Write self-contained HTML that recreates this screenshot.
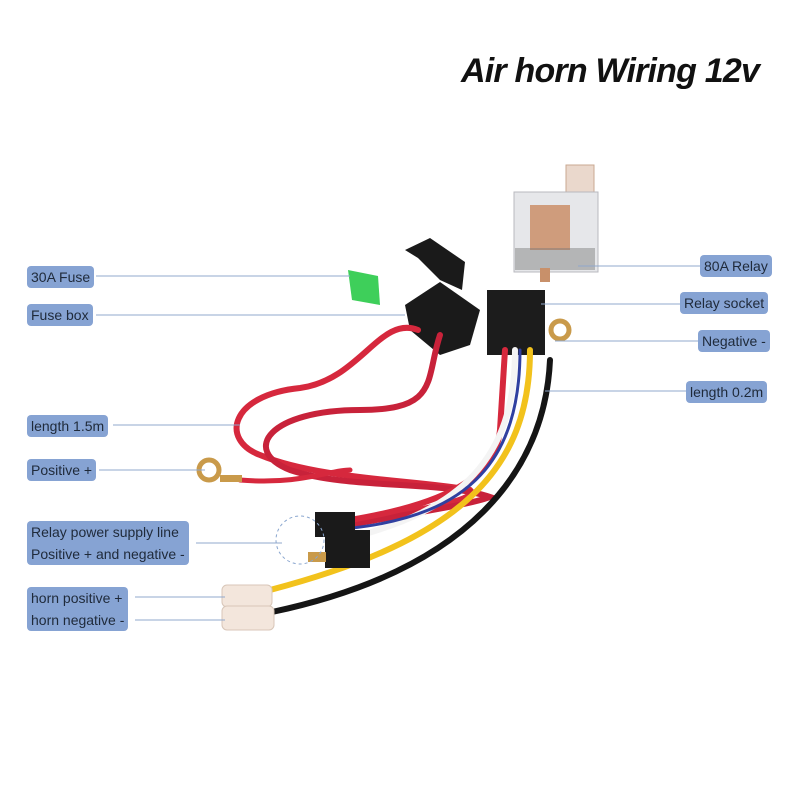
<!DOCTYPE html>
<html><head><style>
body{margin:0;width:800px;height:800px;background:#fff;overflow:hidden;position:relative;font-family:"Liberation Sans",sans-serif}
.t{position:absolute;left:461px;top:52px;font-size:34px;font-weight:bold;font-style:italic;color:#111;letter-spacing:-0.8px}
.l{position:absolute;background:#86a3d3;color:#1f2a3a;font-size:14px;border-radius:4px;padding:0 4px;line-height:22px;white-space:nowrap}
</style></head><body>
<svg width="800" height="800" style="position:absolute;left:0;top:0">
<!-- relay -->
<rect x="566" y="165" width="28" height="32" fill="#ead8cc" stroke="#c9a892"/>
<rect x="514" y="192" width="84" height="80" fill="#e6e7ea" stroke="#b8b9bf"/>
<rect x="530" y="205" width="40" height="45" fill="#c98a60" opacity=".8"/>
<rect x="515" y="248" width="80" height="22" fill="#777" opacity=".45"/>
<rect x="540" y="268" width="10" height="14" fill="#c8906a"/>
<!-- fuse box cover -->
<path d="M405 250 L430 238 L465 262 L462 290 L440 280 L418 258 Z" fill="#1a1a1a"/>
<!-- fuse -->
<path d="M348 270 L378 276 L380 305 L352 300 Z" fill="#3ecf5a"/>
<!-- fuse box -->
<path d="M405 305 L440 282 L480 310 L470 345 L440 355 L410 330 Z" fill="#1a1a1a"/>
<!-- socket -->
<rect x="487" y="290" width="58" height="65" fill="#1c1c1c"/>
<!-- wires -->
<g fill="none" stroke-linecap="round">
<path d="M418 330 C380 315 360 380 300 388 C230 395 220 440 260 455 C320 480 420 480 470 490 C480 500 420 510 360 520" stroke="#d6283d" stroke-width="6"/>
<path d="M440 335 C425 380 440 410 360 410 C270 410 240 450 290 470 C350 490 440 480 490 497 C470 505 400 515 350 525" stroke="#c8223a" stroke-width="6"/>
<path d="M505 350 L500 430 C495 480 440 505 350 520" stroke="#d6283d" stroke-width="6"/>
<path d="M515 350 C515 460 460 510 350 538" stroke="#f4f4f4" stroke-width="6"/>
<path d="M520 350 C520 460 470 515 352 528" stroke="#3040a0" stroke-width="3"/>
<path d="M530 350 C530 470 460 540 270 590" stroke="#f2c21c" stroke-width="6"/>
<path d="M550 360 C545 470 470 570 272 612" stroke="#151515" stroke-width="6"/>
<path d="M240 480 C300 485 330 470 350 470" stroke="#d6283d" stroke-width="5"/>
</g>
<!-- ring terminals -->
<circle cx="209" cy="470" r="10" fill="none" stroke="#c99a4a" stroke-width="5"/>
<rect x="220" y="475" width="22" height="7" fill="#c99a4a"/>
<circle cx="560" cy="330" r="9" fill="none" stroke="#c99a4a" stroke-width="5"/>
<!-- spade connectors -->
<rect x="315" y="512" width="40" height="25" fill="#1a1a1a"/>
<rect x="325" y="530" width="45" height="38" fill="#1a1a1a"/>
<rect x="308" y="552" width="18" height="10" fill="#c99a4a"/>
<rect x="222" y="585" width="50" height="22" rx="5" fill="#f3e6dc" stroke="#d8c6b8"/>
<rect x="222" y="606" width="52" height="24" rx="5" fill="#f3e6dc" stroke="#d8c6b8"/>
<circle cx="300" cy="540" r="24" fill="none" stroke="#8aa6cf" stroke-dasharray="3 3"/>
<!-- leader lines -->
<g stroke="#90a8cc" stroke-width="1">
<line x1="96" y1="276" x2="350" y2="276"/>
<line x1="96" y1="315" x2="405" y2="315"/>
<line x1="578" y1="266" x2="700" y2="266"/>
<line x1="541" y1="304" x2="680" y2="304"/>
<line x1="555" y1="341" x2="700" y2="341"/>
<line x1="545" y1="391" x2="686" y2="391"/>
<line x1="113" y1="425" x2="240" y2="425"/>
<line x1="99" y1="470" x2="205" y2="470"/>
<line x1="196" y1="543" x2="282" y2="543"/>
<line x1="135" y1="597" x2="225" y2="597"/>
<line x1="135" y1="620" x2="225" y2="620"/>
</g>
</svg>
<div class="t">Air horn Wiring 12v</div>
<div class="l" style="left:27px;top:266px">30A Fuse</div>
<div class="l" style="left:27px;top:304px">Fuse box</div>
<div class="l" style="left:700px;top:255px">80A Relay</div>
<div class="l" style="left:680px;top:292px">Relay socket</div>
<div class="l" style="left:698px;top:330px">Negative -</div>
<div class="l" style="left:686px;top:381px">length 0.2m</div>
<div class="l" style="left:27px;top:415px">length 1.5m</div>
<div class="l" style="left:27px;top:459px">Positive +</div>
<div class="l" style="left:27px;top:521px">Relay power supply line<br>Positive + and negative -</div>
<div class="l" style="left:27px;top:587px">horn positive +<br>horn negative -</div>
</body></html>
